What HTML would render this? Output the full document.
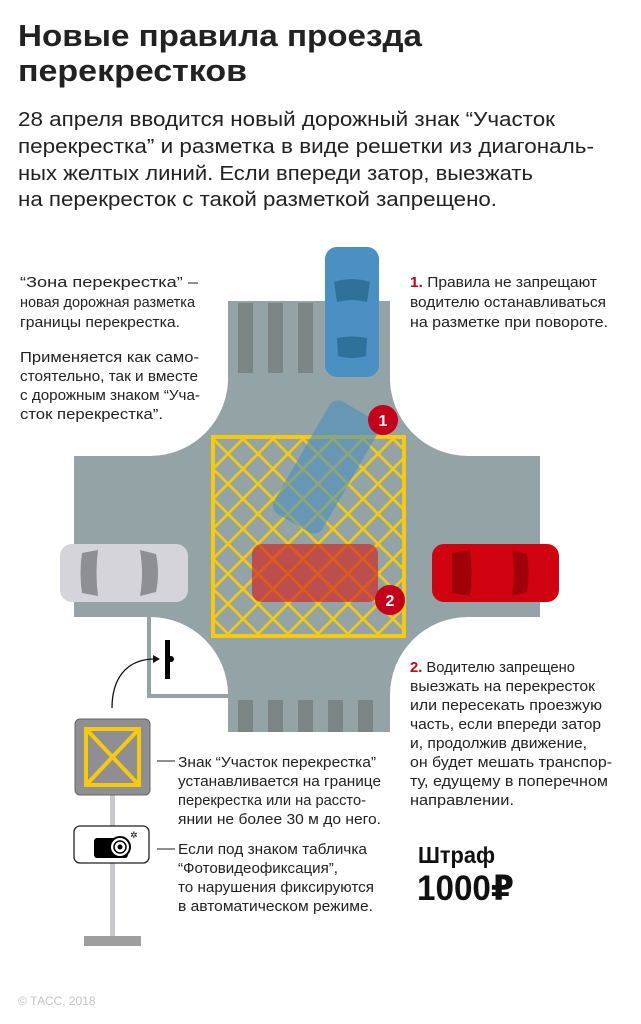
<!DOCTYPE html>
<html><head><meta charset="utf-8"><style>
html,body{margin:0;padding:0;background:#fff;}
svg{display:block;font-family:"Liberation Sans","DejaVu Sans",sans-serif;}
</style></head><body>
<svg width="641" height="1024" viewBox="0 0 641 1024" xmlns="http://www.w3.org/2000/svg">
<defs>
<pattern id="grid" width="21.21" height="21.21" patternUnits="userSpaceOnUse" patternTransform="translate(213,437) rotate(45)">
<rect x="0" y="0" width="21.21" height="2.6" fill="#f6cb0c"/>
<rect x="0" y="0" width="2.6" height="21.21" fill="#f6cb0c"/>
</pattern>
</defs>
<rect width="641" height="1024" fill="#fff"/>
<!-- title -->
<text x="18" y="46" font-size="31" font-weight="bold" fill="#222" textLength="404" lengthAdjust="spacingAndGlyphs">Новые правила проезда</text>
<text x="18" y="81" font-size="31" font-weight="bold" fill="#222" textLength="229" lengthAdjust="spacingAndGlyphs">перекрестков</text>
<g font-size="20" fill="#222">
<text x="18" y="126" textLength="537" lengthAdjust="spacingAndGlyphs">28 апреля вводится новый дорожный знак “Участок</text>
<text x="18" y="153" textLength="576" lengthAdjust="spacingAndGlyphs">перекрестка” и разметка в виде решетки из диагональ-</text>
<text x="18" y="180" textLength="515" lengthAdjust="spacingAndGlyphs">ных желтых линий. Если впереди затор, выезжать</text>
<text x="18" y="206" textLength="479" lengthAdjust="spacingAndGlyphs">на перекресток с такой разметкой запрещено.</text>
</g>
<!-- road -->
<g fill="#94a4a6">
<rect x="228" y="301" width="162" height="431"/>
<rect x="74" y="456" width="466" height="161"/>
<path d="M150,456 L228,456 L228,375 A78,78 0 0 1 150,456 Z"/>
<path d="M390,375 A78,78 0 0 0 468,456 L390,456 Z"/>
<path d="M150,617 A78,78 0 0 1 228,695 L228,617 Z"/>
<path d="M468,617 A78,78 0 0 0 390,695 L390,617 Z"/>
</g>
<path d="M149,617 L149,696 L229,696" fill="none" stroke="#94a4a6" stroke-width="4"/>
<!-- crosswalks -->
<g fill="#7b8586">
<rect x="238" y="303" width="15" height="70"/><rect x="268" y="303" width="15" height="70"/><rect x="298" y="303" width="15" height="70"/>
<rect x="238" y="700" width="15" height="32"/><rect x="268" y="700" width="15" height="32"/><rect x="298" y="700" width="15" height="32"/><rect x="328" y="700" width="15" height="32"/><rect x="358" y="700" width="15" height="32"/>
</g>
<!-- blue car top -->
<g>
<rect x="325" y="247" width="54" height="130" rx="12" fill="#4a90c2"/>
<path d="M334,282 Q352,276 370,282 L367,302 Q352,298 337,302 Z" fill="#2e7199"/>
<path d="M337,338 Q352,335 367,338 L366,356 Q352,360 338,356 Z" fill="#2e7199"/>
</g>
<!-- grid -->
<rect x="213" y="437" width="191" height="199" fill="url(#grid)"/>
<rect x="213" y="437" width="191" height="199" fill="none" stroke="#f6cb0c" stroke-width="4"/>
<g transform="translate(326,467) rotate(30)" opacity="0.6">
<rect x="-28" y="-65" width="56" height="130" rx="10" fill="#4a8fc0"/>
</g>
<rect x="252" y="544" width="126" height="58" rx="10" fill="#d2201f" opacity="0.65"/>
<!-- red car right -->
<g>
<rect x="432" y="544" width="127" height="58" rx="12" fill="#d0020f"/>
<path d="M452,553 L470,550 Q473,573 470,596 L452,593 Z" fill="#a0000a"/>
<path d="M512,550 L527,554 Q530,573 527,592 L512,596 Q516,573 512,550 Z" fill="#a0000a"/>
</g>
<!-- white car left -->
<g>
<rect x="60" y="544" width="128" height="58" rx="12" fill="#d4d4da"/>
<path d="M82,553 L98,550 Q95,573 98,596 L82,593 Q79,573 82,553 Z" fill="#8e8e95"/>
<path d="M140,550 L156,554 Q160,573 156,592 L140,596 Q144,573 140,550 Z" fill="#8e8e95"/>
</g>
<!-- badges -->
<circle cx="383" cy="420" r="15" fill="#c4001a"/>
<text x="383" y="426" font-size="16" font-weight="bold" fill="#fff" text-anchor="middle">1</text>
<circle cx="390" cy="600" r="15" fill="#c4001a"/>
<text x="390" y="606" font-size="16" font-weight="bold" fill="#fff" text-anchor="middle">2</text>
<rect x="165" y="640" width="5" height="39" fill="#000"/>
<circle cx="171" cy="659" r="3" fill="#000"/>
<path d="M112,708 C112,680 125,660 153,659" fill="none" stroke="#111" stroke-width="1.3"/>
<path d="M153,655 L160,659 L153,663 Z" fill="#111"/>
<!-- sign -->
<rect x="110" y="794" width="5" height="142" fill="#c9c9d0"/>
<rect x="84" y="936" width="57" height="10" fill="#9e9e9e"/>
<rect x="75" y="719" width="75" height="76" rx="5" fill="#8e8e94" stroke="#666" stroke-width="1"/>
<rect x="86" y="729" width="53" height="56" fill="none" stroke="#f6cb0c" stroke-width="4"/>
<path d="M86,729 L139,785 M139,729 L86,785" stroke="#f6cb0c" stroke-width="4"/>
<rect x="74" y="826" width="75" height="37" rx="6" fill="#fff" stroke="#222" stroke-width="1.3"/>
<rect x="94" y="838" width="34" height="20" rx="3" fill="#000"/>
<circle cx="120" cy="847" r="10" fill="#fff" stroke="#000" stroke-width="2"/>
<circle cx="120" cy="847" r="6" fill="none" stroke="#000" stroke-width="1.5"/>
<circle cx="120" cy="847" r="2.5" fill="#000"/>
<text x="130" y="838" font-size="9" fill="#000">✲</text>
<line x1="157" y1="761" x2="175" y2="761" stroke="#222" stroke-width="1"/>
<line x1="157" y1="849" x2="175" y2="849" stroke="#222" stroke-width="1"/>
<g font-size="15" fill="#222">
<text x="20" y="287" textLength="178" lengthAdjust="spacingAndGlyphs">“Зона перекрестка” –</text>
<text x="20" y="307" textLength="175" lengthAdjust="spacingAndGlyphs">новая дорожная разметка</text>
<text x="20" y="327" textLength="160" lengthAdjust="spacingAndGlyphs">границы перекрестка.</text>
<text x="20" y="362" textLength="179" lengthAdjust="spacingAndGlyphs">Применяется как само-</text>
<text x="20" y="381" textLength="178" lengthAdjust="spacingAndGlyphs">стоятельно, так и вместе</text>
<text x="20" y="400" textLength="180" lengthAdjust="spacingAndGlyphs">с дорожным знаком “Уча-</text>
<text x="20" y="419" textLength="143" lengthAdjust="spacingAndGlyphs">сток перекрестка”.</text>
</g>
<g font-size="15" fill="#222">
<text x="410" y="287" textLength="187" lengthAdjust="spacingAndGlyphs"><tspan fill="#c4001a" font-weight="bold">1.</tspan> Правила не запрещают</text>
<text x="410" y="307" textLength="196" lengthAdjust="spacingAndGlyphs">водителю останавливаться</text>
<text x="410" y="327" textLength="198" lengthAdjust="spacingAndGlyphs">на разметке при повороте.</text>
</g>
<g font-size="15" fill="#222">
<text x="410" y="672" textLength="165" lengthAdjust="spacingAndGlyphs"><tspan fill="#c4001a" font-weight="bold">2.</tspan> Водителю запрещено</text>
<text x="410" y="691" textLength="185" lengthAdjust="spacingAndGlyphs">выезжать на перекресток</text>
<text x="410" y="710" textLength="192" lengthAdjust="spacingAndGlyphs">или пересекать проезжую</text>
<text x="410" y="729" textLength="191" lengthAdjust="spacingAndGlyphs">часть, если впереди затор</text>
<text x="410" y="748" textLength="177" lengthAdjust="spacingAndGlyphs">и, продолжив движение,</text>
<text x="410" y="767" textLength="202" lengthAdjust="spacingAndGlyphs">он будет мешать транспор-</text>
<text x="410" y="786" textLength="198" lengthAdjust="spacingAndGlyphs">ту, едущему в поперечном</text>
<text x="410" y="805" textLength="104" lengthAdjust="spacingAndGlyphs">направлении.</text>
</g>
<g font-size="15" fill="#222">
<text x="178" y="767" textLength="198" lengthAdjust="spacingAndGlyphs">Знак “Участок перекрестка”</text>
<text x="178" y="786" textLength="203" lengthAdjust="spacingAndGlyphs">устанавливается на границе</text>
<text x="178" y="805" textLength="188" lengthAdjust="spacingAndGlyphs">перекрестка или на рассто-</text>
<text x="178" y="824" textLength="203" lengthAdjust="spacingAndGlyphs">янии не более 30 м до него.</text>
<text x="178" y="854" textLength="189" lengthAdjust="spacingAndGlyphs">Если под знаком табличка</text>
<text x="178" y="873" textLength="160" lengthAdjust="spacingAndGlyphs">“Фотовидеофиксация”,</text>
<text x="178" y="892" textLength="196" lengthAdjust="spacingAndGlyphs">то нарушения фиксируются</text>
<text x="178" y="911" textLength="195" lengthAdjust="spacingAndGlyphs">в автоматическом режиме.</text>
</g>
<text x="418" y="863" font-size="23" font-weight="bold" fill="#111" textLength="77" lengthAdjust="spacingAndGlyphs">Штраф</text>
<text x="417" y="900" font-size="35" font-weight="bold" fill="#111" textLength="97" lengthAdjust="spacingAndGlyphs">1000₽</text>
<text x="18" y="1005" font-size="12" fill="#c4c4c4">© ТАСС, 2018</text>
</svg>
</body></html>
